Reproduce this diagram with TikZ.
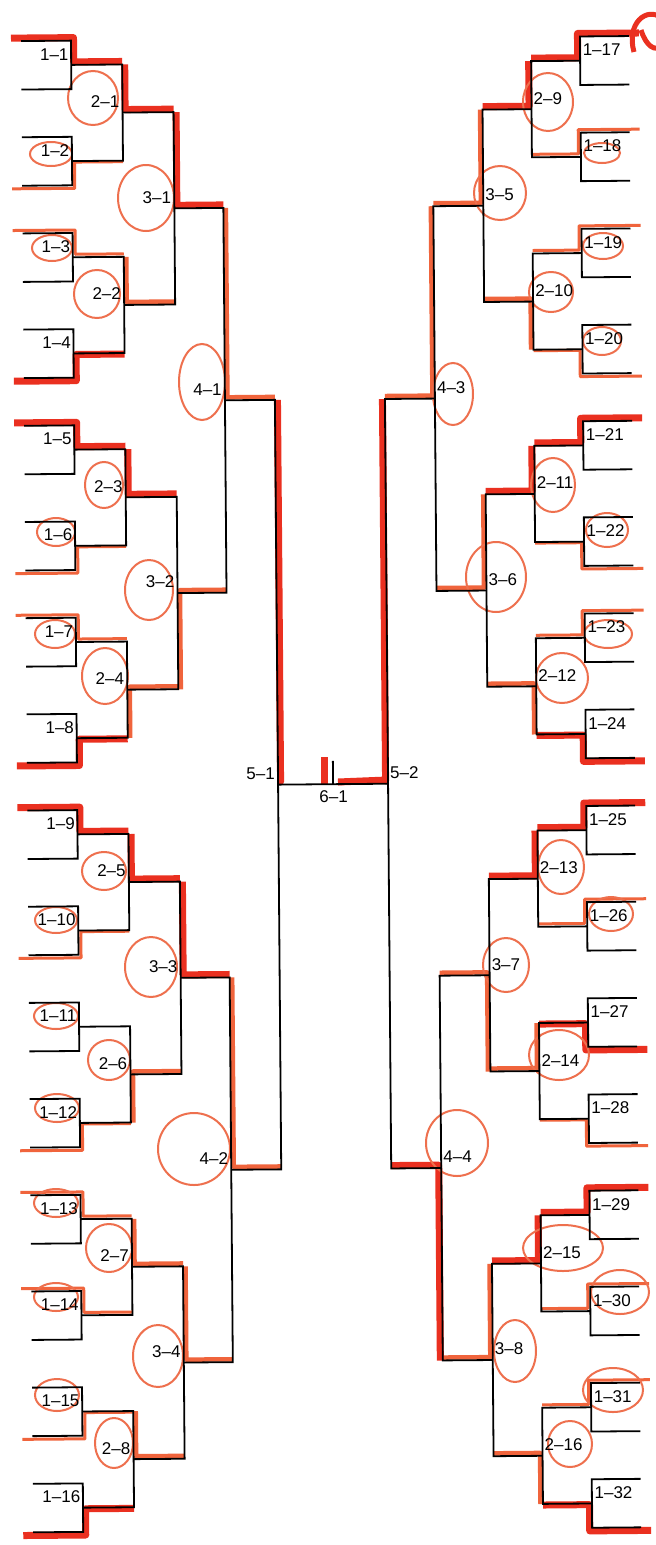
\documentclass[tikz,border=0pt]{standalone}
\usepackage{fontspec}
\setmainfont{Liberation Sans}
\definecolor{redm}{RGB}{234,48,32}
\definecolor{orm}{RGB}{240,100,60}
\definecolor{ringc}{RGB}{238,112,78}
\def\sideL{L}
\newcommand\colx[2]{\edef\sidetmp{#1}\ifx\sidetmp\sideL\pgfmathsetmacro\cx{{27,77,128,179,228,278,278}[#2]}\else\pgfmathsetmacro\cx{{635,586,537,488,438,388,388}[#2]}\fi}
\newcommand\midy[2]{\pgfmathsetmacro\my{62.75+96.2*(2^(#1-1)*#2-(2^(#1-1)+1)/2)}}
\newcommand\hw[5]{%
 \begingroup
 \edef\sidetmp{#2}%
 \ifx\sidetmp\sideL\def\sg{1}\else\def\sg{-1}\fi
 \colx{#2}{#3}\let\xa\cx
 \pgfmathtruncatemacro\rn{#3+1}%
 \colx{#2}{\rn}\let\xb\cx
 \midy{#3}{#4}\let\ym\my
 \pgfmathsetmacro\xv{\xa+\sg*2.5}%
 \ifnum#3=1
   \pgfmathsetmacro\ytop{38.5+96.2*(#4-1)}%
   \if#5u\pgfmathsetmacro\yc{\ytop-3}\pgfmathsetmacro\yo{\ym-3}%
   \else\pgfmathsetmacro\yc{\ytop+51.5}\pgfmathsetmacro\yo{\ym+1}\fi
   \colx{#2}{0}\let\xz\cx
   \pgfmathsetmacro\xs{\xz-\sg*10}%
   \draw[#1] (\xs,\yc) -- (\xv,\yc) -- (\xv,\yo) -- (\xb,\yo);
 \else
   \pgfmathtruncatemacro\rp{#3-1}%
   \if#5u\pgfmathtruncatemacro\cn{2*#4-1}\else\pgfmathtruncatemacro\cn{2*#4}\fi
   \midy{\rp}{\cn}\let\yc\my
   \pgfmathsetmacro\yo{\ym-3}%
   \draw[#1] (\xv,\yc) -- (\xv,\yo) -- (\xb,\yo);
 \fi
 \endgroup}
\tikzset{
 bk/.style={black,line width=1.8pt},
 hthick/.style={redm,line width=7pt,line join=round},
 hmid/.style={orm,line width=4.5pt,line join=round},
 hthin/.style={orm,line width=3pt,line join=round},
 ring/.style={ringc,line width=2pt},
 lab/.style={inner sep=0pt,font=\fontsize{17}{17}\selectfont}
}
\begin{document}
\begin{tikzpicture}[x=1pt,y=-1pt]
\useasboundingbox (0,0) rectangle (656,1545);
\fill[white] (0,0) rectangle (656,1545);
% ---------- red highlights ----------
\begin{scope}[rotate around={0.47:(331,772)}]
\foreach \n/\w in {1/u,4/d,5/u,8/d,9/u,16/d} {\hw{hthick}{L}{1}{\n}{\w}}
\foreach \n/\w in {2/d,3/u,6/d,7/u,10/d,12/d,13/u,14/u,15/d} {\hw{hthin}{L}{1}{\n}{\w}}
\foreach \n/\w in {1/u,3/u,5/u} {\hw{hthick}{L}{2}{\n}{\w}}
\foreach \n/\w in {2/u,4/d,6/d,7/u,8/u} {\hw{hmid}{L}{2}{\n}{\w}}
\foreach \n/\w in {1/u,3/u} {\hw{hthick}{L}{3}{\n}{\w}}
\foreach \n/\w in {2/d,4/u} {\hw{hmid}{L}{3}{\n}{\w}}
\foreach \n/\w in {1/u,2/u} {\hw{hmid}{L}{4}{\n}{\w}}
\hw{hthick}{L}{5}{1}{u}
\foreach \n/\w in {1/u,5/u,8/d,9/u,11/d,13/u,16/d} {\hw{hthick}{R}{1}{\n}{\w}}
\foreach \n/\w in {2/u,3/u,4/d,6/d,7/u,10/u,12/d,14/u,15/u} {\hw{hthin}{R}{1}{\n}{\w}}
\foreach \n/\w in {1/u,3/u,5/u,7/u} {\hw{hthick}{R}{2}{\n}{\w}}
\foreach \n/\w in {2/d,4/d,6/u,8/d} {\hw{hmid}{R}{2}{\n}{\w}}
\foreach \n/\w in {1/u,2/u,3/d,4/u} {\hw{hmid}{R}{3}{\n}{\w}}
\hw{hmid}{R}{4}{1}{u}
\hw{hthick}{R}{4}{2}{d}
\hw{hthick}{R}{5}{1}{u}
\end{scope}
\draw[hthick] (324,757) -- (324,785);
\draw[hthick] (338,782) -- (387,780);
\draw[redm,line width=5pt] (634,52) .. controls (626,24) and (646,6) .. (662,18);
\draw[redm,line width=5pt] (641,30) .. controls (646,46) and (655,52) .. (662,46);
% ---------- hand-drawn rings ----------
\foreach \x/\y/\a/\b in {93/98/25/27,51/154/21/12,146/198/28/33,52/248/20/13,97/294/23/24,
 202/382/23/38,104/485/19/23,56/532/19/14,149/590/24/30,55/634/20/14,105/676/23/28,
 104/871/22/19,56/920/21/13,151/967/26/30,56/1016/22/13,109/1060/21/20,57/1108/22/14,
 194/1149/36/36,56/1203/22/14,109/1248/23/24,56/1297/22/14,158/1356/25/31,57/1395/22/16,
 114/1443/19/25,
 548/102/25/29,602/153/18/10,500/193/26/27,603/246/20/13,551/292/22/20,602/341/19/14,
 453/394/20/31,553/485/22/27,607/530/21/17,496/577/30/35,608/634/24/14,562/678/26/25,
 561/867/23/27,611/914/22/17,506/965/23/27,559/1055/30/25,457/1143/31/33,563/1248/40/23,
 620/1292/29/22,515/1351/21/31,613/1390/30/22,570/1444/22/23}
 {\draw[ring] (\x,\y) ellipse [x radius=\a pt, y radius=\b pt];}
% ---------- bracket ----------
\begin{scope}[rotate around={0.47:(331,772)}]
\foreach \s in {L,R}{%
 \foreach \kk in {1,...,16}{%
   \edef\sidetmp{\s}%
   \pgfmathsetmacro\yt{38.5+96.2*(\kk-1)}%
   \pgfmathsetmacro\yb{\yt+48.5}%
   \colx{\s}{0}\let\xz\cx
   \colx{\s}{1}\let\xa\cx
   \midy{1}{\kk}%
   \coordinate (\s T\kk) at (\xz,\yt);
   \coordinate (\s B\kk) at (\xz,\yb);
   \coordinate (\s M1x\kk) at (\xa,\my);
   \draw[bk] (\s T\kk) -- (\s M1x\kk |- \s T\kk) -- (\s M1x\kk |- \s B\kk) -- (\s B\kk);
   \edef\sidetmp{\s}%
   \ifx\sidetmp\sideL
     \pgfmathsetmacro\lx{\xa-2.5}\pgfmathtruncatemacro\num{\kk}%
     \node[lab,anchor=east] (t\s1x\kk) at (\lx,\yt+13.5) {1\textendash\num};
   \else
     \pgfmathsetmacro\lx{\xa+2.5}\pgfmathtruncatemacro\num{\kk+16}%
     \node[lab,anchor=west] (t\s1x\kk) at (\lx,\yt+13.5) {1\textendash\num};
   \fi
 }%
 \foreach \rr in {2,...,5}{%
   \pgfmathtruncatemacro\cnt{2^(5-\rr)}%
   \pgfmathtruncatemacro\rp{\rr-1}%
   \foreach \n in {1,...,\cnt}{%
     \colx{\s}{\rr}%
     \midy{\rr}{\n}%
     \pgfmathtruncatemacro\ca{2*\n-1}%
     \pgfmathtruncatemacro\cb{2*\n}%
     \coordinate (\s M\rr x\n) at (\cx,\my);
     \draw[bk] (\s M\rp x\ca) -- (\s M\rr x\n |- \s M\rp x\ca) -- (\s M\rr x\n |- \s M\rp x\cb) -- (\s M\rp x\cb);
     \edef\sidetmp{\s}%
     \ifx\sidetmp\sideL
       \pgfmathsetmacro\lx{\cx-3}\pgfmathtruncatemacro\num{\n}%
       \node[lab,anchor=east] (t\s\rr x\n) at (\lx,\my-11) {\rr\textendash\num};
     \else
       \pgfmathsetmacro\lx{\cx+2}\pgfmathtruncatemacro\num{\n+\cnt}%
       \node[lab,anchor=west] (t\s\rr x\n) at (\lx,\my-11) {\rr\textendash\num};
     \fi
   }%
 }%
}
\coordinate (F) at (333,784.25);
\coordinate (Ft) at (333,761);
\draw[bk] (LM5x1) -- (RM5x1);
\draw[bk] (F) -- (Ft);
\node[lab,anchor=north] (t61) at (333.5,790) {6\textendash1};
\end{scope}
\end{tikzpicture}
\end{document}
